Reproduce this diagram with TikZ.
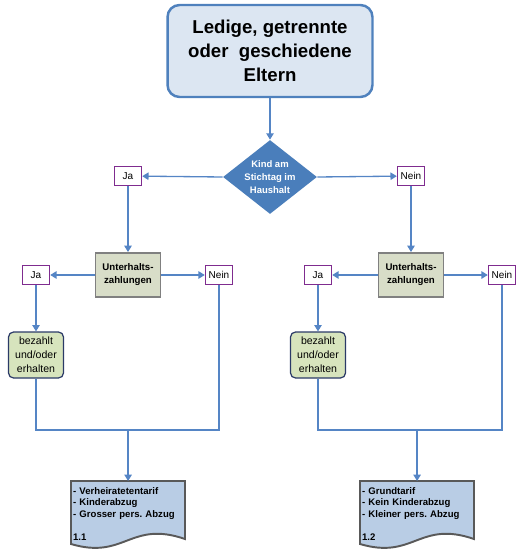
\documentclass[tikz,border=0pt]{standalone}
\usepackage{fontspec}
\setmainfont{Liberation Sans}
\usetikzlibrary{shapes.geometric,arrows.meta}
\frenchspacing

\definecolor{titelblau}{HTML}{DCE6F2}
\definecolor{randblau}{HTML}{4F81BD}
\definecolor{rautenblau}{HTML}{4A7EBB}
\definecolor{pfeilblau}{HTML}{5585C5}
\definecolor{lila}{HTML}{7F2C8F}
\definecolor{graugruen}{HTML}{D8DDC8}
\definecolor{hellgruen}{HTML}{D7E4BD}
\definecolor{marine}{HTML}{2B3A67}
\definecolor{docblau}{HTML}{B9CDE5}

\tikzset{
    pfeil/.style={draw=pfeilblau, line width=0.75pt, -{Triangle[length=3.6pt,width=4.2pt]}},
    linie/.style={draw=pfeilblau, line width=0.75pt},
    titelbox/.style={draw=randblau, fill=titelblau, line width=1.4pt, rounded corners=0.24cm,
        minimum width=4.1cm, minimum height=1.84cm, align=center,
        font=\fontsize{10.6}{13.6}\selectfont\bfseries},
    raute/.style={diamond, fill=rautenblau, inner sep=0pt, minimum width=1.88cm, minimum height=1.48cm},
    rautentext/.style={text=white, align=center, inner sep=0pt,
        font=\fontsize{5.4}{7.4}\selectfont\bfseries},
    antwort/.style={draw=lila, fill=white, line width=0.8pt, minimum width=0.54cm,
        minimum height=0.38cm, inner sep=1pt, font=\fontsize{5.7}{6.5}\selectfont},
    unterhalt/.style={draw=gray, fill=graugruen, line width=1.1pt, minimum width=1.3cm,
        minimum height=0.88cm, align=center, font=\fontsize{5.5}{7.4}\selectfont\bfseries},
    bezahlt/.style={draw=marine, fill=hellgruen, line width=0.7pt, rounded corners=0.1cm,
        minimum width=1.1cm, minimum height=0.92cm, align=center, inner sep=1pt,
        font=\fontsize{6}{7.9}\selectfont},
    dokform/.style={draw=black!65, fill=docblau, line width=1.1pt},
    doktext/.style={anchor=north west, text width=2.2cm, align=left, inner xsep=1pt,
        inner ysep=3.5pt, font=\fontsize{5.45}{6.5}\selectfont\bfseries}
}

\begin{document}
\begin{tikzpicture}[x=0.02cm, y=-0.02cm]
    \useasboundingbox (0,0) rectangle (515,551);

    \node[titelbox] (titel) at (270,51) {Ledige, getrennte\\oder~ geschiedene\\Eltern};
    \node[raute] (kind) at (270,177) {};
    \node[rautentext] (kindlabel) at (kind.center) {Kind am\\Stichtag im\\Haushalt};

    \node[antwort] (ja1) at (128,176) {Ja};
    \node[antwort] (nein1) at (411,176) {Nein};

    \node[unterhalt] (unt1) at (128,275) {Unterhalts-\\zahlungen};
    \node[unterhalt] (unt2) at (411,275) {Unterhalts-\\zahlungen};

    \node[antwort] (ja11) at (36,275) {Ja};
    \node[antwort] (nein11) at (219,275) {Nein};
    \node[antwort] (ja21) at (318,275) {Ja};
    \node[antwort] (nein21) at (502,275) {Nein};

    \node[bezahlt] (bez1) at (36,355) {bezahlt\\und/oder\\erhalten};
    \node[bezahlt] (bez2) at (318,355) {bezahlt\\und/oder\\erhalten};

    \filldraw[dokform] (71,481) -- (185,481) -- (185,539) .. controls (130,520) and (125,560) .. (71,544) -- cycle;
    \filldraw[dokform] (360,481) -- (474,481) -- (474,539) .. controls (419,520) and (414,560) .. (360,544) -- cycle;
    \node[doktext] (doc1) at (71,481) {- Verheiratetentarif\\- Kinderabzug\\- Grosser pers. Abzug\\[6.5pt]1.1};
    \node[doktext] (doc2) at (360,481) {- Grundtarif\\- Kein Kinderabzug\\- Kleiner pers. Abzug\\[6.5pt]1.2};

    \coordinate (m1) at (doc1.north |- 0,430);
    \coordinate (m2) at (doc2.north |- 0,430);

    \draw[pfeil] (titel) -- (kind.north);
    \draw[pfeil] (kind.west) -- (ja1);
    \draw[pfeil] (kind.east) -- (nein1);
    \draw[pfeil] (ja1) -- (unt1);
    \draw[pfeil] (nein1) -- (unt2);

    \draw[pfeil] (unt1) -- (ja11);
    \draw[pfeil] (unt1) -- (nein11);
    \draw[pfeil] (unt2) -- (ja21);
    \draw[pfeil] (unt2) -- (nein21);
    \draw[pfeil] (ja11) -- (bez1);
    \draw[pfeil] (ja21) -- (bez2);

    \draw[linie] (bez1.south) |- (m1) -| (nein11.south);
    \draw[linie] (bez2.south) |- (m2) -| (nein21.south);
    \draw[pfeil] (m1) -- (doc1.north);
    \draw[pfeil] (m2) -- (doc2.north);
\end{tikzpicture}
\end{document}
